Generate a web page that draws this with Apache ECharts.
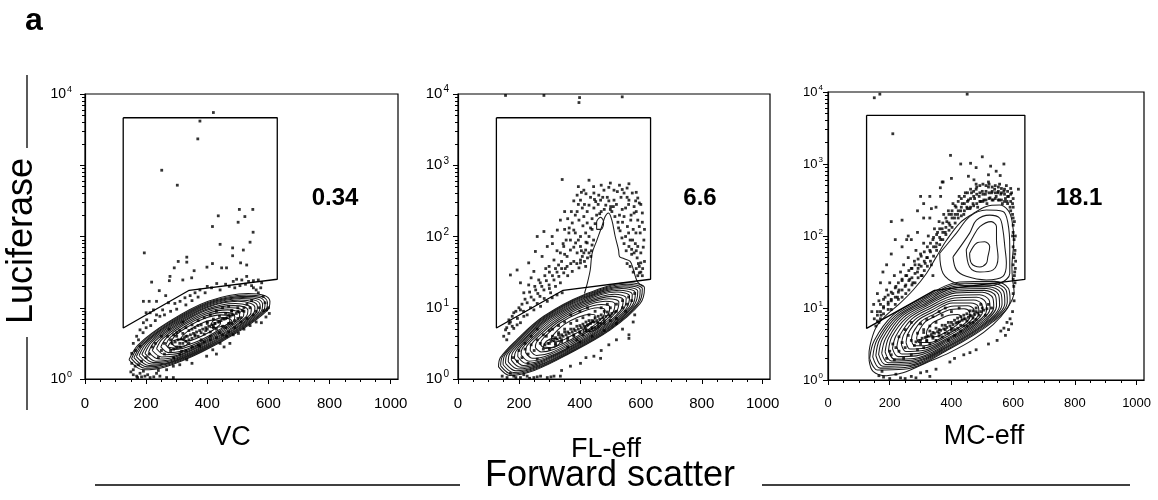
<!DOCTYPE html>
<html><head><meta charset="utf-8">
<script src="https://cdn.jsdelivr.net/npm/echarts@6/dist/echarts.min.js"></script>
<style>html,body{margin:0;padding:0;background:#fff}#c{width:1158px;height:500px}</style>
</head><body><div id="c"></div>
<script>
// ---------- tick / label data ----------
const xMajorTicks = [0, 200, 400, 600, 800, 1000];
const xMinorTicks = [50, 100, 150, 250, 300, 350, 450, 500, 550, 650, 700, 750, 850, 900, 950];
const yMinorTicks = [2,3,4,5,6,7,8,9,20,30,40,50,60,70,80,90,200,300,400,500,600,700,800,900,2000,3000,4000,5000,6000,7000,8000,9000];
const panelNames = ['VC', 'FL-eff', 'MC-eff'];
const gatePercents = ['0.34', '6.6', '18.1'];
const labelledExponents = [[0, 4], [0, 1, 2, 3, 4], [0, 1, 2, 3, 4]];

// ---------- data: [forward scatter, log10(luciferase)] ----------
const vcGate = [[125,3.667],[629,3.667],[629,1.40],[341,1.245],[125,0.716],[125,3.667]];
const flGate = [[126,3.667],[632,3.667],[632,1.40],[345,1.245],[126,0.716],[126,3.667]];
const mcGate = [[125,3.676],[638,3.676],[638,1.397],[345,1.245],[125,0.717],[125,3.676]];

const vcContours = [
 [[144,0.27],[190,0.13],[262,0.17],[382,0.38],[512,0.69],[598,0.97],[605,1.09],[589,1.17],[534,1.2],[403,1.09],[273,0.8],[174,0.48]],
 [[152,0.285],[196,0.15],[266,0.19],[382,0.39],[507,0.69],[590,0.96],[597,1.075],[581,1.155],[528,1.18],[402,1.075],[276,0.795],[181,0.485]],
 [[160,0.30],[203,0.17],[270,0.21],[382,0.40],[503,0.69],[583,0.95],[589,1.06],[574,1.14],[523,1.16],[401,1.06],[280,0.79],[188,0.49]],
 [[168,0.315],[210,0.19],[274,0.225],[382,0.41],[498,0.69],[575,0.94],[581,1.045],[567,1.12],[517,1.145],[400,1.045],[284,0.785],[195,0.5]],
 [[177,0.33],[217,0.21],[279,0.24],[382,0.42],[494,0.69],[567,0.93],[573,1.03],[560,1.10],[512,1.13],[400,1.03],[288,0.78],[203,0.51]],
 [[186,0.345],[224,0.23],[283,0.26],[382,0.435],[488,0.69],[558,0.92],[564,1.015],[551,1.08],[506,1.11],[399,1.015],[292,0.775],[211,0.515]],
 [[196,0.36],[232,0.25],[288,0.28],[382,0.45],[483,0.69],[550,0.91],[556,1.0],[543,1.06],[500,1.09],[398,1.0],[297,0.77],[219,0.52]],
 [[208,0.38],[241,0.28],[294,0.305],[381,0.465],[476,0.69],[539,0.895],[544,0.98],[532,1.035],[492,1.06],[397,0.98],[302,0.765],[229,0.53]],
 [[220,0.40],[251,0.31],[300,0.33],[381,0.48],[470,0.69],[528,0.88],[533,0.96],[522,1.01],[485,1.03],[396,0.96],[307,0.76],[240,0.54]],
 [[234,0.425],[262,0.34],[307,0.36],[381,0.495],[462,0.69],[515,0.86],[520,0.935],[510,0.98],[476,1.0],[394,0.935],[313,0.755],[252,0.555]],
 [[248,0.45],[274,0.37],[314,0.39],[381,0.51],[454,0.69],[502,0.84],[506,0.91],[497,0.95],[466,0.97],[393,0.91],[320,0.75],[265,0.57]],
 [[264,0.48],[287,0.41],[322,0.43],[381,0.53],[444,0.685],[487,0.82],[490,0.88],[482,0.92],[455,0.935],[391,0.88],[327,0.74],[279,0.585]],
 [[281,0.51],[300,0.45],[330,0.47],[381,0.55],[435,0.68],[472,0.80],[474,0.85],[468,0.89],[445,0.90],[390,0.85],[335,0.73],[293,0.60]],
 [[314,0.57],[327,0.53],[347,0.54],[381,0.60],[417,0.68],[441,0.76],[443,0.79],[439,0.82],[423,0.83],[386,0.79],[350,0.71],[322,0.62]],
 [[270,0.45],[300,0.43],[335,0.50],[320,0.56],[285,0.53]],
 [[410,0.72],[450,0.74],[480,0.82],[455,0.86],[420,0.82]]
];
const vcDots = [
 [420,3.74],[376,3.62],[369,3.37],[251,2.93],[302,2.72],[505,2.38],[549,2.38],[436,2.29],[523,2.28],[417,2.14],[501,2.2],[550,2.06],[540,1.92],[442,1.89],[483,1.84],[483,1.73],[518,1.81],[194,1.77],[305,1.65],[333,1.64],[333,1.71],[292,1.56],[278,1.44],[276,1.38],[320,1.39],[349,1.42],[357,1.52],[399,1.57],[417,1.62],[447,1.56],[463,1.56],[509,1.63],[529,1.6],[529,1.44],[218,1.36],[243,1.24],[264,1.17],[210,1.09],[191,1.09],[234,1.09],[273,1.07],[254,0.97],[200,0.93],
 [485,1.37],[496,1.4],[513,1.39],[535,1.37],[551,1.38],[567,1.39],[578,1.35],[472,1.3],[490,1.28],[507,1.31],[431,1.34],[442,1.25],[414,1.28],[376,1.25],[393,1.21],[360,1.21],[344,1.17],[327,1.14],[311,1.09],[294,1.06],[551,1.28],[567,1.21],[583,1.16],[589,1.07],[594,0.97],[592,0.87],[577,0.79],
 [460,1.33],[525,1.33],[545,1.31],[400,1.3],[370,1.15],[350,1.1],[330,1.04],[300,0.98],[280,0.95],[230,0.82],[245,0.88],[260,0.9],[215,0.75],[560,1.25],[575,1.28],[600,1.0],[603,0.92],[584,0.96],
 [474,0.5],[463,0.6],[418,0.41],[398,0.32],[376,0.46],[333,0.27],[289,0.18],[267,0.13],[316,0.39],[485,0.62],[502,0.64],[442,0.5],[520,0.7],[540,0.75],[560,0.8],[455,0.45],[430,0.35],[350,0.22],[310,0.2],[240,0.12],
 [158,0.06],[169,0.04],[180,0.08],[196,0.04],[213,0.02],[245,0.04],[267,0.02],[289,0.02],[158,0.13],[153,0.22],[164,0.18],[191,0.11],[234,0.08],[172,0.02],[185,0.03],[150,0.1],[205,0.06],[225,0.03],
 [158,0.5],[169,0.6],[180,0.69],[191,0.79],[202,0.83],[180,0.46],[153,0.36],[213,0.93],[224,0.97],[234,0.9],[165,0.4],[175,0.55],[190,0.65],[200,0.72],
 [330,0.6],[350,0.7],[370,0.75],[400,0.8],[420,0.72],[450,0.85],[470,0.9],[300,0.65],[280,0.55],[260,0.5],[250,0.4],[380,0.55],[410,0.6],[440,0.65],[480,0.78],[500,0.85],[520,0.95],[460,0.72],[340,0.5],[360,0.62],[310,0.45],[290,0.42],[395,0.68],[425,0.78],[500,1.0],[480,0.95],[530,1.05],[545,1.1],[275,0.7],[320,0.8],
 [260,0.35],[280,0.4],[300,0.45],[320,0.5],[340,0.55],[360,0.6],[380,0.65],[400,0.7],[420,0.75],[440,0.8],[460,0.85],[480,0.9],[500,0.95],[520,1.0],[540,1.0],
 [270,0.6],[290,0.62],[310,0.68],[330,0.72],[350,0.76],[370,0.82],[390,0.86],[410,0.9],[430,0.95],[450,1.0],[470,1.02],
 [240,0.3],[230,0.5],[250,0.6],[290,0.3],[310,0.35],[330,0.4],[350,0.45],[370,0.48],[390,0.52],[410,0.55],[430,0.58],[450,0.62],[470,0.66],[490,0.72],[510,0.8],[530,0.85],[550,0.9],[560,0.95],[570,1.0],[210,0.35],[220,0.45],[200,0.3],[185,0.25],[175,0.2],
 [285,0.5],[295,0.52],[305,0.55],[315,0.56],[325,0.58],[335,0.6],[345,0.62],[355,0.64],[365,0.66],[375,0.68],[385,0.7],[395,0.72],[405,0.74],[415,0.76],[425,0.78],[435,0.8],[445,0.82],[455,0.84],[465,0.86],[475,0.88],[485,0.9],[495,0.92],[505,0.94],[515,0.96],[300,0.6],[320,0.64],[340,0.68],[360,0.72],[380,0.76],[400,0.78],[420,0.84],[440,0.88],[460,0.92],[480,0.96],[310,0.5],[330,0.53],[350,0.57],[370,0.6],[390,0.63],[410,0.66],[430,0.7],[450,0.74],[470,0.78],[490,0.82],[510,0.86]
];

const flContours = [
 [[133,0.17],[170,0.05],[250,0.12],[358,0.34],[500,0.69],[598,1.06],[612,1.28],[560,1.35],[412,1.18],[281,0.88],[190,0.54],[139,0.30]],
 [[140,0.185],[176,0.07],[254,0.14],[358,0.35],[496,0.69],[591,1.05],[605,1.265],[554,1.33],[411,1.165],[284,0.875],[195,0.545],[146,0.315]],
 [[148,0.20],[183,0.09],[258,0.16],[359,0.36],[493,0.69],[585,1.04],[598,1.25],[549,1.31],[410,1.15],[287,0.87],[201,0.55],[153,0.33]],
 [[156,0.22],[190,0.115],[262,0.18],[360,0.375],[488,0.69],[577,1.03],[590,1.23],[543,1.29],[409,1.135],[290,0.865],[208,0.555],[161,0.345]],
 [[165,0.24],[197,0.14],[267,0.20],[361,0.39],[484,0.69],[570,1.02],[582,1.21],[537,1.27],[408,1.12],[294,0.86],[215,0.56],[170,0.36]],
 [[175,0.265],[205,0.165],[272,0.225],[362,0.405],[480,0.695],[561,1.005],[572,1.185],[529,1.245],[406,1.1],[298,0.855],[222,0.57],[180,0.375]],
 [[185,0.29],[214,0.19],[277,0.25],[363,0.42],[475,0.70],[552,0.99],[563,1.16],[522,1.22],[405,1.08],[302,0.85],[230,0.58],[190,0.39]],
 [[196,0.315],[223,0.22],[283,0.275],[364,0.435],[470,0.70],[542,0.975],[552,1.135],[514,1.19],[403,1.06],[306,0.84],[238,0.585],[200,0.41]],
 [[207,0.34],[233,0.25],[289,0.30],[365,0.45],[464,0.70],[533,0.96],[542,1.11],[506,1.16],[402,1.04],[311,0.83],[247,0.59],[211,0.43]],
 [[222,0.37],[245,0.29],[297,0.335],[366,0.475],[457,0.70],[519,0.94],[528,1.08],[495,1.125],[400,1.015],[317,0.82],[258,0.605],[225,0.455]],
 [[237,0.40],[258,0.33],[305,0.37],[367,0.50],[450,0.70],[506,0.92],[515,1.05],[484,1.09],[399,0.99],[323,0.81],[270,0.62],[240,0.48]],
 [[254,0.44],[273,0.38],[314,0.415],[368,0.525],[441,0.705],[491,0.895],[498,1.01],[471,1.045],[396,0.955],[329,0.80],[283,0.63],[257,0.51]],
 [[271,0.48],[288,0.43],[323,0.46],[370,0.55],[433,0.71],[476,0.87],[482,0.97],[459,1.00],[394,0.92],[336,0.79],[296,0.64],[274,0.54]],
 [[306,0.56],[317,0.52],[341,0.54],[373,0.61],[416,0.71],[445,0.82],[450,0.89],[434,0.91],[390,0.86],[350,0.77],[323,0.67],[308,0.59]],
 [[280,0.45],[310,0.44],[335,0.52],[315,0.57],[290,0.53]],
 [[410,0.66],[440,0.67],[470,0.76],[450,0.80],[420,0.75]],
 [[455,2.1],[470,2.1],[478,2.2],[468,2.27],[455,2.2]]
];
const flLobe = [[415,1.2],[423,1.32],[434,1.53],[440,1.76],[456,1.95],[472,2.14],[483,2.28],[494,2.33],[505,2.23],[516,2.0],[527,1.81],[530,1.72],[544,1.69],[565,1.65],[576,1.53],[582,1.44],[590,1.36],[607,1.30]];
const flDots = [
 [156,3.98],[282,3.98],[399,3.95],[397,3.88],[539,3.96],
 [342,2.80],[430,2.79],[413,2.65],[391,2.58],[402,2.51],[446,2.61],[462,2.58],[479,2.65],[495,2.69],[512,2.65],[523,2.63],[539,2.66],[561,2.74],[545,2.61],[572,2.61],[590,2.54],[595,2.47],[578,2.42],[561,2.51],[512,2.51],[501,2.42],[485,2.44],[468,2.51],[452,2.49],[430,2.44],[408,2.40],[391,2.35],[424,2.35],[446,2.40],[413,2.28],[397,2.23],[375,2.19],[380,2.09],[364,2.05],[424,2.19],[435,2.12],[419,2.05],[402,2.0],[369,1.95],[386,1.91],[402,1.86],[413,1.77],[391,1.77],[369,1.81],[358,1.72],[380,1.65],[402,1.67],[419,1.58],[397,1.56],[375,1.51],[358,1.58],[347,1.49],[331,1.44],[315,1.39],[336,1.35],[299,1.32],[282,1.25],[304,1.21],[269,1.16],[249,1.11],[227,1.07],[205,0.97],[183,0.93],[167,0.83],[178,0.74],[194,0.76],[216,0.88],
 [470,2.35],[490,2.55],[505,2.35],[520,2.45],[530,2.3],[550,2.4],[555,2.55],[583,2.5],[568,2.3],[540,2.2],[527,2.12],[455,2.3],[440,2.25],[415,2.45],[395,2.45],[410,2.15],[385,2.05],[395,1.95],[420,1.92],[405,1.8],[380,1.85],[425,1.7],[415,1.65],[390,1.62],[370,1.62],[352,1.55],[325,1.5],[340,1.55],[360,1.45],[310,1.45],[290,1.38],[320,1.3],[300,1.27],[262,1.2],[240,1.15],[275,1.3],[255,1.25],
 [260,2.0],[282,2.07],[232,1.63],[194,1.53],[172,1.46],[254,1.79],[293,1.86],[276,1.72],[315,1.67],[299,1.58],[336,2.23],[326,2.09],[249,1.51],[265,1.39],[232,1.32],[216,1.21],[309,2.0],[347,1.86],[336,1.77],[350,2.35],[310,1.9],[288,1.55],[240,1.42],[205,1.35],[325,1.8],
 [578,2.33],[590,2.23],[595,2.14],[584,2.05],[573,1.95],[590,1.86],[578,1.77],[561,1.86],[550,2.0],[556,2.14],[545,2.28],[539,2.38],[600,1.77],[600,1.63],[595,1.49],[610,1.95],[605,2.33],[567,2.23],[582,1.9],[570,1.82],[588,1.7],[595,1.58],[585,1.55],[605,1.45],[598,2.05],[560,2.05],[565,1.95],
 [430,2.0],[424,1.91],[419,1.81],[408,1.72],[402,1.63],[430,1.77],
 [445,2.7],[470,2.72],[500,2.75],[530,2.72],[555,2.68],[585,2.62],[600,2.45],[605,2.2],[612,2.1],[608,1.85],[612,1.65],[606,1.55],[600,1.5],[590,1.45],[575,1.5],[565,1.58],[555,1.62],[575,2.1],[585,2.35],[560,2.45],[535,2.55],[510,2.42],[495,2.5],[475,2.55],[460,2.45],[448,2.52],[435,2.55],[420,2.6],[405,2.62],[395,2.7],[380,2.5],[372,2.35],[385,2.3],[360,2.25],[365,2.12],[350,2.1],[355,1.95],[345,1.9],[350,1.75],[340,1.65],[330,1.6],[320,1.55],[300,1.5],[285,1.45],[270,1.35],[252,1.3],[235,1.22],[220,1.12],[210,1.05],[200,1.0],[190,0.95],[178,0.88],[168,0.78],[160,0.72],[445,1.95],[440,1.88],[438,1.8],[436,1.72],[440,2.1],[450,2.18],[465,2.32],[480,2.38],[500,2.38],[515,2.28],[525,2.2],[532,2.08],[538,1.98],[545,1.9],[552,1.8],[570,1.75],[585,1.8],[592,1.62],
 [156,0.69],[167,0.64],[183,0.71],[205,0.79],[227,0.9],[249,0.97],[271,1.02],[293,1.09],[309,1.14],[325,1.18],[342,1.21],[150,0.6],[160,0.55],[172,0.8],[195,0.85],[215,0.95],[238,1.0],[260,1.06],[283,1.13],
 [561,0.62],[561,0.57],[495,0.48],[446,0.32],[468,0.29],[402,0.22],[369,0.18],[520,0.55],[540,0.7],[580,0.9],[575,0.8],[470,0.4],[420,0.3],[340,0.12],
 [145,0.04],[161,0.02],[183,0.04],[205,0.02],[227,0.04],[249,0.02],[271,0.04],[293,0.02],[315,0.04],[336,0.04],[172,0.08],[216,0.06],[190,0.02],[260,0.03],[305,0.03],[235,0.01],
 [300,0.5],[320,0.58],[340,0.62],[360,0.66],[380,0.7],[400,0.75],[420,0.8],[440,0.82],[460,0.88],[480,0.95],[500,1.0],[350,0.8],[330,0.75],[310,0.7],[290,0.6],[270,0.5],[250,0.4],[230,0.35],[390,0.55],[410,0.62],[430,0.68],[450,0.72],[470,0.78],[370,0.9],[400,0.95],[425,1.0],[520,1.05],[540,1.1],[260,0.7],[240,0.6],[220,0.5],[200,0.4],[180,0.3],[520,0.85],[550,0.95],[560,1.15],[580,1.2],
 [280,0.42],[300,0.42],[320,0.48],[340,0.52],[360,0.55],[380,0.6],[400,0.65],[420,0.7],[440,0.72],[460,0.78],[480,0.82],[500,0.88],[520,0.95],[540,1.0],[555,1.05],[570,1.1],[330,0.65],[350,0.7],[370,0.78],[390,0.82],[410,0.86],[430,0.9],[450,0.95],[470,1.0],[490,1.05],[280,0.62],[300,0.68],[260,0.55],[240,0.48],[220,0.42],[210,0.3],[195,0.25],[230,0.22],[260,0.28],[360,0.45],[400,0.52],[440,0.6],[480,0.68],[520,0.78],
 [285,0.48],[295,0.5],[305,0.53],[315,0.54],[325,0.56],[335,0.58],[345,0.6],[355,0.62],[365,0.64],[375,0.66],[385,0.68],[395,0.7],[405,0.72],[415,0.74],[425,0.76],[435,0.78],[445,0.8],[455,0.82],[465,0.84],[475,0.86],[485,0.88],[495,0.9],[505,0.92],[515,0.94],[310,0.6],[330,0.62],[350,0.66],[370,0.7],[390,0.74],[410,0.77],[430,0.82],[450,0.86],[470,0.9],[490,0.94],[320,0.5],[340,0.55],[360,0.58],[380,0.62],[400,0.66],[420,0.68],[440,0.7],[460,0.74],[480,0.78],[500,0.82]
];

const mcContours = [
 [[133,0.28],[146,0.12],[189,0.06],[243,0.1],[319,0.24],[394,0.38],[470,0.56],[535,0.77],[578,0.98],[603,1.22],[598,1.4],[596,1.57],[602,1.94],[596,2.22],[583,2.36],[556,2.43],[513,2.41],[470,2.31],[427,2.18],[384,1.94],[351,1.71],[319,1.48],[276,1.25],[232,1.06],[189,0.9],[157,0.74],[141,0.56],[133,0.37]],
 [[135,0.30],[160,0.14],[245,0.15],[394,0.43],[535,0.81],[590,1.10],[585,1.27],[540,1.37],[427,1.36],[300,1.12],[211,0.90],[150,0.55]],
 [[145,0.32],[169,0.165],[250,0.175],[394,0.445],[529,0.81],[581,1.085],[577,1.25],[533,1.345],[425,1.335],[303,1.105],[218,0.895],[159,0.56]],
 [[155,0.34],[178,0.19],[256,0.20],[393,0.46],[523,0.81],[573,1.07],[569,1.23],[527,1.32],[423,1.31],[306,1.09],[225,0.89],[168,0.57]],
 [[164,0.355],[186,0.215],[261,0.225],[392,0.47],[516,0.805],[564,1.055],[560,1.21],[520,1.295],[421,1.285],[309,1.075],[231,0.885],[177,0.575]],
 [[174,0.37],[195,0.24],[267,0.25],[392,0.48],[510,0.80],[556,1.04],[552,1.19],[514,1.27],[419,1.26],[313,1.06],[238,0.88],[187,0.58]],
 [[185,0.39],[205,0.265],[273,0.275],[391,0.495],[503,0.80],[546,1.025],[543,1.165],[507,1.245],[417,1.235],[316,1.045],[245,0.87],[197,0.59]],
 [[196,0.41],[215,0.29],[279,0.30],[390,0.51],[496,0.80],[537,1.01],[534,1.14],[500,1.22],[415,1.21],[320,1.03],[253,0.86],[207,0.60]],
 [[209,0.435],[227,0.325],[286,0.335],[389,0.53],[487,0.795],[525,0.99],[522,1.11],[491,1.185],[412,1.175],[324,1.01],[262,0.855],[220,0.61]],
 [[223,0.46],[239,0.36],[294,0.37],[389,0.55],[479,0.79],[514,0.97],[511,1.08],[482,1.15],[410,1.14],[329,0.99],[272,0.85],[233,0.62]],
 [[238,0.49],[252,0.395],[302,0.405],[388,0.565],[470,0.785],[501,0.95],[499,1.05],[472,1.11],[407,1.105],[333,0.965],[282,0.84],[246,0.635]],
 [[253,0.52],[266,0.43],[310,0.44],[387,0.58],[461,0.78],[489,0.93],[487,1.02],[463,1.07],[404,1.07],[338,0.94],[292,0.83],[260,0.65]],
 [[270,0.55],[281,0.475],[319,0.48],[386,0.605],[450,0.775],[474,0.905],[472,0.985],[452,1.03],[401,1.025],[344,0.915],[304,0.82],[276,0.66]],
 [[287,0.58],[296,0.52],[329,0.52],[385,0.63],[439,0.77],[460,0.88],[458,0.95],[441,0.99],[398,0.98],[350,0.89],[316,0.81],[293,0.67]],
 [[319,0.64],[325,0.60],[346,0.60],[384,0.67],[419,0.77],[432,0.84],[431,0.88],[420,0.91],[392,0.90],[360,0.84],[338,0.79],[322,0.70]],
 [[362,1.76],[416,2.04],[459,2.27],[513,2.36],[567,2.34],[583,2.18],[589,1.85],[589,1.48],[556,1.34],[481,1.30],[416,1.34],[373,1.48]],
 [[405,1.71],[459,2.04],[481,2.22],[524,2.29],[556,2.25],[567,2.08],[573,1.85],[578,1.62],[567,1.44],[513,1.39],[448,1.44],[416,1.53]],
 [[448,1.81],[470,1.99],[492,2.13],[529,2.2],[546,2.13],[546,1.94],[551,1.71],[535,1.53],[492,1.5],[459,1.57]],
 [[459,1.76],[481,1.9],[508,1.92],[524,1.85],[518,1.71],[513,1.62],[492,1.57],[465,1.62]]
];
const mcDots = [
 [150,0.85],[160,0.95],[165,1.1],[172,0.9],[180,1.0],[185,1.15],[190,1.25],[195,1.05],[200,1.35],[205,1.12],[210,1.2],[215,1.45],[220,1.3],[225,1.15],[230,1.25],[235,1.5],[240,1.38],[245,1.6],[250,1.3],[255,1.45],[260,1.7],[265,1.4],[270,1.55],[275,1.35],[280,1.65],[285,1.8],[290,1.5],[295,1.6],[300,1.75],[305,1.45],[170,1.35],[178,1.5],[190,1.6],[205,1.75],[218,1.95],[240,1.85],[160,1.2],[148,1.05],[142,0.95],[155,0.75],[165,0.8],
 [310,1.9],[315,1.62],[320,1.7],[325,2.0],[330,1.8],[335,1.6],[340,1.95],[345,2.1],[350,1.85],[355,2.05],[360,2.2],[365,1.95],[370,2.1],[375,2.3],[380,2.05],[385,2.2],[390,2.35],[395,2.15],[400,2.3],[405,2.45],[410,2.25],[415,2.4],[420,2.3],[425,2.55],[430,2.35],[435,2.45],[440,2.3],[445,2.6],[450,2.4],[330,2.25],[350,2.4],[310,2.25],[290,2.05],[270,1.95],[300,2.55],[365,2.55],[335,2.38],
 [455,2.5],[460,2.38],[465,2.6],[470,2.45],[475,2.52],[480,2.65],[485,2.4],[490,2.55],[495,2.48],[500,2.62],[505,2.5],[510,2.58],[515,2.45],[520,2.68],[525,2.53],[530,2.6],[535,2.5],[540,2.65],[545,2.55],[550,2.6],[555,2.5],[560,2.58],[565,2.45],[570,2.62],[575,2.52],[580,2.48],[585,2.55],[590,2.4],[595,2.6],[598,2.3],[600,2.15],[598,2.0],[600,1.85],[602,1.7],[600,1.6],[605,1.5],[600,1.4],[602,1.3],[598,2.45],[592,2.66],[578,2.7],[556,2.72],[520,2.75],[480,2.72],[600,2.05],[603,1.95],[605,1.75],
 [455,2.83],[480,2.95],[520,2.85],[545,2.9],[500,3.1],[430,3.0],[370,2.75],[330,2.55],[400,2.8],[570,3.0],[617,2.65],[340,1.45],[255,1.95],[240,2.22],[205,2.2],[260,2.0],[290,2.35],[310,2.45],
 [150,3.92],[168,3.97],[451,3.97],[210,3.42],[397,3.12],[462,3.01],[527,2.97],[558,2.84],[373,2.75],[364,2.67],[473,2.78],
 [160,0.82],[160,0.9],[170,0.85],[170,0.95],[170,1.05],[180,0.92],[180,1.02],[180,1.12],[195,0.98],[195,1.08],[195,1.18],[205,0.98],[205,1.1],[205,1.22],[218,1.05],[218,1.15],[218,1.28],[228,1.12],[228,1.22],[228,1.35],[240,1.15],[240,1.25],[240,1.4],[252,1.2],[252,1.32],[252,1.45],[262,1.25],[262,1.38],[262,1.52],[272,1.32],[272,1.42],[272,1.55],[282,1.35],[282,1.48],[282,1.6],[292,1.42],[292,1.55],[292,1.68],[302,1.45],[302,1.58],[302,1.72],[312,1.52],[312,1.65],[312,1.78],[322,1.58],[322,1.7],[322,1.85],[332,1.65],[332,1.78],[332,1.9],[342,1.72],[342,1.85],[342,1.98],[352,1.8],[352,1.9],[352,2.02],[362,1.88],[362,1.98],[362,2.1],[372,1.95],[372,2.05],[372,2.18],[382,2.02],[382,2.12],[382,2.25],[392,2.08],[392,2.18],[392,2.3],[402,2.12],[402,2.25],[402,2.35],[412,2.18],[412,2.3],[412,2.42],[422,2.25],[422,2.35],[422,2.48],[432,2.28],[432,2.4],[432,2.52],[442,2.35],[442,2.45],[442,2.55],[452,2.38],[452,2.48],[452,2.6],[462,2.4],[462,2.52],[462,2.65],[472,2.42],[472,2.55],[472,2.62],[482,2.45],[482,2.58],[482,2.68],[492,2.48],[492,2.6],[492,2.7],[502,2.48],[502,2.58],[502,2.72],[512,2.5],[512,2.62],[512,2.7],[522,2.52],[522,2.6],[522,2.72],[532,2.5],[532,2.62],[532,2.68],[542,2.52],[542,2.6],[542,2.7],[552,2.5],[552,2.62],[552,2.68],[562,2.5],[562,2.6],[562,2.66],[572,2.48],[572,2.58],[572,2.65],[582,2.45],[582,2.55],[582,2.62],[592,2.35],[592,2.48],[592,2.58],[600,2.25],[600,2.4],[600,2.52],[606,1.35],[607,1.55],[606,1.8],[607,2.0],[604,2.2],[608,1.65],[604,1.45],
 [600,1.2],[603,1.1],[598,0.95],[590,0.85],[580,0.8],[585,0.7],[570,0.72],[560,0.68],[595,0.78],[575,0.62],[548,0.55],[520,0.5],[480,0.42],[460,0.38],[440,0.35],[410,0.3],[395,0.25],[350,0.15],[320,0.12],[300,0.1],[270,0.05],[235,0.03],[200,0.02],[180,0.04],[165,0.06],[250,0.02],[285,0.03],[330,0.05],[175,0.12],[220,0.08],
 [300,0.5],[320,0.55],[340,0.6],[360,0.65],[380,0.7],[400,0.72],[420,0.8],[440,0.85],[460,0.9],[480,0.95],[350,0.8],[330,0.75],[310,0.7],[290,0.65],[270,0.55],[250,0.45],[230,0.4],[390,0.55],[410,0.62],[430,0.68],[450,0.75],[470,0.8],[370,0.9],[400,0.95],[425,1.0],[510,0.9],[530,1.0],[495,1.05],[270,0.8],[250,0.7],[230,0.6],[210,0.5],[200,0.4],[190,0.3],
 [280,0.48],[300,0.55],[320,0.6],[340,0.66],[360,0.7],[380,0.76],[400,0.8],[420,0.86],[440,0.9],[460,0.96],[480,1.0],[500,1.0],[520,1.05],[300,0.78],[320,0.84],[340,0.88],[360,0.95],[380,1.0],[290,0.42],[310,0.45],[330,0.5],[350,0.55],[370,0.6],[390,0.65],[410,0.7],[430,0.76],[450,0.82],[470,0.86],[490,0.9],[260,0.62],[240,0.52],[220,0.45],[205,0.35],[215,0.28],[245,0.3],[270,0.35],
 [285,0.53],[295,0.55],[305,0.58],[315,0.59],[325,0.61],[335,0.63],[345,0.65],[355,0.67],[365,0.69],[375,0.71],[385,0.73],[395,0.75],[405,0.77],[415,0.79],[425,0.81],[435,0.83],[445,0.85],[455,0.87],[465,0.89],[475,0.91],[485,0.93],[495,0.95],[505,0.97],[515,0.99],[310,0.66],[330,0.68],[350,0.72],[370,0.76],[390,0.8],[410,0.83],[430,0.88],[450,0.92],[470,0.96],[320,0.54],[340,0.58],[360,0.61],[380,0.65],[400,0.69],[420,0.72],[440,0.75],[460,0.79],[480,0.84]
];

// ---------- build chart ----------
const FONT = '"Liberation Sans", Arial, Helvetica, sans-serif';
const toVal = p => [p[0], Math.pow(10, p[1])];
const grids = [
  {left: 85, top: 94, width: 313, height: 285},
  {left: 458, top: 94, width: 312, height: 285},
  {left: 828, top: 92, width: 316, height: 288}
];
const xFont = [15, 15, 13];
const yFont = [14, 15, 13];
const yMargin = [13, 9, 5];

const option = {animation: false, backgroundColor: '#fff', grid: [], xAxis: [], yAxis: [], series: [], graphic: []};
grids.forEach((g, i) => {
  option.grid.push(Object.assign({show: true, borderColor: '#000', borderWidth: 1.2, backgroundColor: 'transparent'}, g));
  option.xAxis.push({gridIndex: i, type: 'value', min: 0, max: 1024, interval: 200, position: 'bottom',
    axisLine: {show: true, onZero: false, lineStyle: {color: '#000', width: 1.2}},
    axisTick: {show: true, length: 5, customValues: xMajorTicks, lineStyle: {color: '#000', width: 1}},
    axisLabel: {customValues: xMajorTicks, color: '#000', fontSize: xFont[i], fontFamily: FONT, margin: 17, formatter: v => String(v)},
    splitLine: {show: false}});
  option.xAxis.push({gridIndex: i, type: 'value', min: 0, max: 1024, interval: 50, position: 'bottom',
    axisLine: {show: false}, axisTick: {show: true, length: 3, customValues: xMinorTicks, lineStyle: {color: '#000', width: 1}},
    axisLabel: {show: false}, splitLine: {show: false}});
  const exps = labelledExponents[i];
  option.yAxis.push({gridIndex: i, type: 'log', logBase: 10, min: 1, max: 10000, position: 'left',
    axisLine: {show: true, onZero: false, lineStyle: {color: '#000', width: 1.2}},
    axisTick: {show: true, length: 5, lineStyle: {color: '#000', width: 1}},
    axisLabel: {color: '#000', fontFamily: FONT, margin: yMargin[i],
      formatter: v => { const n = Math.round(Math.log10(v)); return exps.indexOf(n) >= 0 ? '{b|10}{s|' + n + '}' : ''; },
      rich: {b: {fontSize: yFont[i], fontFamily: FONT, color: '#000'}, s: {fontSize: yFont[i] - 5, fontFamily: FONT, color: '#000', padding: [0, 0, 9, 1]}}},
    splitLine: {show: false}});
  option.yAxis.push({gridIndex: i, type: 'log', logBase: 10, min: 1, max: 10000, position: 'left',
    axisLine: {show: false}, axisTick: {show: true, length: 3, customValues: yMinorTicks, lineStyle: {color: '#000', width: 1}},
    axisLabel: {show: false}, splitLine: {show: false}});
});

const panels = [
  {contours: vcContours, open: [], dots: vcDots, gate: vcGate},
  {contours: flContours, open: [flLobe], dots: flDots, gate: flGate},
  {contours: mcContours, open: [], dots: mcDots, gate: mcGate}
];
panels.forEach((p, i) => {
  const xi = 2 * i, yi = 2 * i;
  p.contours.forEach(ring => {
    const pts = ring.map(toVal); pts.push(pts[0]);
    option.series.push({type: 'line', xAxisIndex: xi, yAxisIndex: yi, data: pts, smooth: 0.35, symbol: 'none', silent: true, z: 3,
      lineStyle: {color: '#1a1a1a', width: 1.05}});
  });
  p.open.forEach(path => {
    option.series.push({type: 'line', xAxisIndex: xi, yAxisIndex: yi, data: path.map(toVal), smooth: 0.35, symbol: 'none', silent: true, z: 3,
      lineStyle: {color: '#1a1a1a', width: 1.05}});
  });
  option.series.push({type: 'scatter', xAxisIndex: xi, yAxisIndex: yi, data: p.dots.map(toVal), symbol: 'rect', symbolSize: 2.8, silent: true, z: 4,
    itemStyle: {color: '#000'}});
  option.series.push({type: 'line', xAxisIndex: xi, yAxisIndex: yi, data: p.gate.map(toVal), symbol: 'none', silent: true, z: 5,
    lineStyle: {color: '#000', width: 1.3}});
});

// ---------- text & decorations ----------
const txt = (text, x, y, size, opts) => Object.assign({type: 'text', x: x, y: y, silent: true,
  style: Object.assign({text: text, fontSize: size, fontFamily: FONT, fill: '#000', align: 'center', verticalAlign: 'middle'}, (opts && opts.style) || {})},
  (opts && opts.el) || {});
const ln = (x1, y1, x2, y2) => ({type: 'line', silent: true, shape: {x1, y1, x2, y2}, style: {stroke: '#000', lineWidth: 1.3}});
option.graphic = [
  txt('a', 25, 21, 32, {style: {fontWeight: 'bold', align: 'left'}}),
  txt('Luciferase', 22, 241, 36, {el: {rotation: Math.PI / 2}}),
  ln(27, 75, 27, 148), ln(27, 337, 27, 410),
  txt('Forward scatter', 610, 476, 36),
  ln(95, 485, 460, 485), ln(762, 485, 1130, 485),
  txt(panelNames[0], 232, 438, 27),
  txt(panelNames[1], 606, 450, 27),
  txt(panelNames[2], 984, 437, 27),
  txt(gatePercents[0], 335, 198, 24, {style: {fontWeight: 'bold'}}),
  txt(gatePercents[1], 700, 198, 24, {style: {fontWeight: 'bold'}}),
  txt(gatePercents[2], 1079, 198, 24, {style: {fontWeight: 'bold'}})
];

const chart = echarts.init(document.getElementById('c'), null, {renderer: 'canvas'});
chart.setOption(option);
</script></body></html>
